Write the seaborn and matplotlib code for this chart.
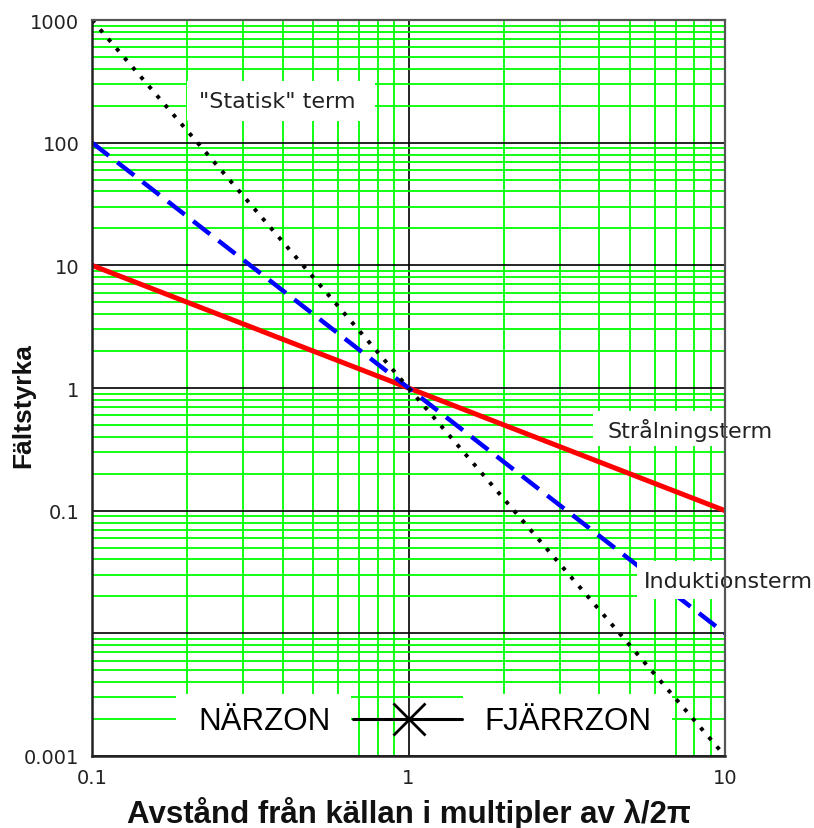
import matplotlib
matplotlib.use("Agg")
import matplotlib.pyplot as plt
from matplotlib.ticker import LogLocator, NullFormatter, FixedLocator, FixedFormatter
from matplotlib.patches import Rectangle
import seaborn as sns

# ---- data ----
distance = [0.1, 1, 10]
stralning = [10, 1, 0.1]        # 1/r
induktion = [100, 1, 0.01]      # 1/r^2
statisk = [1000, 1, 0.001]      # 1/r^3

zone_x = [0.67, 1.48]
zone_y = [0.002, 0.002]
cross_x = [1]
cross_y = [0.002]

x_ticks = [0.1, 1, 10]
x_tick_labels = ["0.1", "1", "10"]
y_ticks = [0.001, 0.01, 0.1, 1, 10, 100, 1000]
y_tick_labels = ["0.001", "", "0.1", "1", "10", "100", "1000"]

sns.set_style("white")
plt.rcParams["font.family"] = ["DejaVu Sans"]

fig = plt.figure(figsize=(8.14, 8.29), dpi=100)
ax = fig.add_axes([92 / 814, 1 - 757 / 829, 633 / 814, 736 / 829])
ax.set_xscale("log")
ax.set_yscale("log")
ax.set_xlim(0.1, 10)
ax.set_ylim(0.001, 1000)

GREEN = "#00ff00"
ax.xaxis.set_minor_locator(LogLocator(base=10, subs=[2, 3, 4, 5, 6, 7, 8, 9], numticks=50))
ax.yaxis.set_minor_locator(LogLocator(base=10, subs=[2, 3, 4, 5, 6, 7, 8, 9], numticks=50))
ax.xaxis.set_minor_formatter(NullFormatter())
ax.yaxis.set_minor_formatter(NullFormatter())
ax.xaxis.set_major_locator(FixedLocator(x_ticks))
ax.xaxis.set_major_formatter(FixedFormatter(x_tick_labels))
ax.yaxis.set_major_locator(FixedLocator(y_ticks))
ax.yaxis.set_major_formatter(FixedFormatter(y_tick_labels))

ax.grid(which="minor", color=GREEN, lw=1.3, zorder=0)
ax.grid(which="major", color="black", lw=1.2, zorder=0.5)
ax.set_axisbelow(True)

ax.tick_params(which="major", length=0, labelsize=14, colors="#222222")
ax.tick_params(axis="y", which="major", pad=9)
ax.tick_params(axis="x", which="major", pad=9)
ax.tick_params(which="minor", direction="in", length=4, width=1, color=GREEN)

# lines
sns.lineplot(x=distance, y=stralning, color="#ff0000", lw=3.6, ax=ax, zorder=3)
sns.lineplot(x=distance, y=induktion, color="#0000ff", lw=3.2, ax=ax, zorder=3,
             linestyle=(0, (4.8, 2.4)))
sns.lineplot(x=distance, y=statisk, color="black", lw=2.8, ax=ax, zorder=3,
             linestyle=(0, (1.0, 2.2)))

# white label boxes (axes fraction)
boxes = [
    (0.150, 0.863, 0.297, 0.054),
    (0.791, 0.421, 0.292, 0.048),
    (0.861, 0.213, 0.290, 0.052),
    (0.133, 0.002, 0.276, 0.082),
    (0.586, 0.002, 0.330, 0.082),
]
for (bx, by, bw, bh) in boxes:
    ax.add_patch(Rectangle((bx, by), bw, bh, transform=ax.transAxes,
                           facecolor="white", edgecolor="none", zorder=4, clip_on=False))

lab_kw = dict(transform=ax.transAxes, ha="center", va="center", fontsize=16,
              color="#222222", zorder=6, clip_on=False)
ax.text(0.292, 0.890, '"Statisk" term', **lab_kw)
ax.text(0.945, 0.444, "Strålningsterm", **lab_kw)
ax.text(1.006, 0.238, "Induktionsterm", **lab_kw)

zone_kw = dict(transform=ax.transAxes, ha="center", va="center", fontsize=22.5,
               family=["Liberation Sans", "DejaVu Sans"], color="black", zorder=6)
ax.text(0.272, 0.0476, "NÄRZON", **zone_kw)
ax.text(0.751, 0.0476, "FJÄRRZON", **zone_kw)

sns.lineplot(x=zone_x, y=zone_y, color="black", lw=2.2, ax=ax, zorder=7)
ax.plot(cross_x, cross_y, linestyle="none", marker="x", ms=23, mew=2.0,
        color="black", zorder=7)

for side in ["left", "bottom"]:
    ax.spines[side].set_color("#222222")
    ax.spines[side].set_linewidth(1.8)
for side in ["top", "right"]:
    ax.spines[side].set_color("#555555")
    ax.spines[side].set_linewidth(1.6)
for sp in ax.spines.values():
    sp.set_zorder(8)

ax.set_xlabel("Avstånd från källan i multipler av λ/2π", fontsize=22.5, fontweight="bold",
              family=["Liberation Sans", "DejaVu Sans"], color="#111111")
ax.xaxis.set_label_coords(0.5, -0.055)
ax.set_ylabel("Fältstyrka", fontsize=19, fontweight="bold",
              family=["Liberation Sans", "DejaVu Sans"], color="#111111", va="center")
ax.yaxis.set_label_coords(-0.109, 0.478)

fig.savefig("out.png", dpi=100, facecolor="white")
